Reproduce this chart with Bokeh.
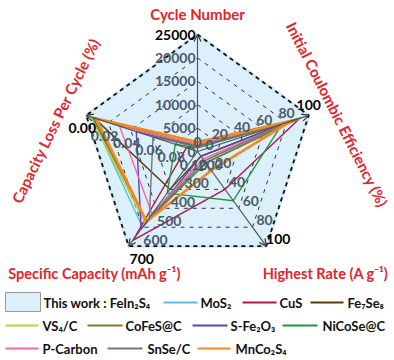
import numpy as np
from bokeh.plotting import figure
from bokeh.models import Range1d, Arrow, OpenHead
from bokeh.core.properties import value
from bokeh.embed import file_html
from bokeh.resources import INLINE

# ---------------- data ----------------
axis_titles = ["Cycle Number", "Initial Coulombic Efficiency (%)", "Highest Rate (A g\u207b\u00b9)",
               "Specific Capacity (mAh g\u207b\u00b9)", "Capacity Loss Per Cycle (%)"]
axis_lo = [0, 0, 0, 200, 0.10]        # value at the centre
axis_hi = [25000, 100, 100, 700, 0.00]  # value at the outer ring

cycle_ticks = [0, 5000, 10000, 15000, 20000, 25000]
ice_ticks = [0, 20, 40, 60, 80, 100]
rate_ticks = [0, 20, 40, 60, 80, 100]
cap_ticks = [200, 300, 400, 500, 600, 700]
loss_ticks = [0.10, 0.08, 0.06, 0.04, 0.02, 0.00]
cycle_tick_labels = ["0", "5000", "10000", "15000", "20000", "25000"]
ice_tick_labels = ["0", "20", "40", "60", "80", "100"]
rate_tick_labels = ["0", "20", "40", "60", "80", "100"]
cap_tick_labels = ["200", "300", "400", "500", "600", "700"]
loss_tick_labels = ["0.10", "0.08", "0.06", "0.04", "0.02", "0.00"]

this_work = [25000, 100, 100, 700, 0.0]

materials = ["MoS\u2082", "CuS", "Fe\u2087Se\u2088", "VS\u2084/C", "CoFeS@C", "S-Fe\u2082O\u2083",
             "NiCoSe@C", "P-Carbon", "SnSe/C", "MnCo\u2082S\u2084"]
cycle = [1000, 1000, 2000, 1500, 1200, 1000, 800, 1500, 1000, 2000]
ice = [85, 92, 82, 94, 90, 83, 76, 84, 82, 84]
rate = [10, 40, 5, 8, 12, 5, 52, 8, 10, 20]
capacity = [600, 670, 400, 580, 570, 610, 420, 530, 550, 570]
loss = [0.005, 0.09, 0.007, 0.004, 0.006, 0.045, 0.08, 0.03, 0.06, 0.009]

colors = ["#5bbce6", "#b0164c", "#5a3b0c", "#b8d43a", "#807a28", "#6a3db8",
          "#1f9a3e", "#ea6aaa", "#777777", "#f08a22"]
widths = [1.4, 1.4, 1.4, 1.6, 1.8, 1.4, 1.4, 1.4, 1.4, 2.6]

# ---------------- geometry ----------------
CX, CY, R = 197.0, 151.0, 117.0
angles = np.deg2rad([90, 18, -54, -126, 162])


def frac(k, v):
    return (v - axis_lo[k]) / (axis_hi[k] - axis_lo[k])


def pt(k, f):
    return CX + R * f * np.cos(angles[k]), CY - R * f * np.sin(angles[k])


def poly(vals):
    xs, ys = [], []
    for k, v in enumerate(vals):
        x, y = pt(k, frac(k, v))
        xs.append(x)
        ys.append(y)
    return xs, ys


W, H = 394, 360
p = figure(width=W, height=H, x_range=Range1d(0, W), y_range=Range1d(H, 0),
           output_backend="svg", toolbar_location=None, min_border=0,
           x_axis_location=None, y_axis_location=None)
p.grid.visible = False
p.outline_line_color = None
p.background_fill_color = "white"

FONT = value("Lato")

# this work fill
xs, ys = poly(this_work)
p.patch(xs, ys, fill_color="#dcf0fb", line_color="#cfe9f8", line_width=3)

# grid rings
for i in range(1, 6):
    f = i / 5
    rx = [pt(k, f)[0] for k in range(5)] + [pt(0, f)[0]]
    ry = [pt(k, f)[1] for k in range(5)] + [pt(0, f)[1]]
    if i < 5:
        p.line(rx, ry, line_color="#333333", line_width=1, line_dash="4 5")
    else:
        p.line(rx, ry, line_color="#111111", line_width=1.8, line_dash="4 4")

# axis lines with arrow heads
for k in range(5):
    ex, ey = pt(k, 1.0)
    p.add_layout(Arrow(end=OpenHead(size=7, line_color="#333333", line_width=1.2),
                       x_start=CX, y_start=CY, x_end=ex, y_end=ey,
                       line_color="#555555", line_width=1.2))

# data lines
for m in range(len(materials)):
    vals = [cycle[m], ice[m], rate[m], capacity[m], loss[m]]
    xs, ys = poly(vals)
    p.line(xs + [xs[0]], ys + [ys[0]], line_color=colors[m], line_width=widths[m])

# tick labels
tick_sets = [(cycle_ticks, cycle_tick_labels), (ice_ticks, ice_tick_labels),
             (rate_ticks, rate_tick_labels), (cap_ticks, cap_tick_labels),
             (loss_ticks, loss_tick_labels)]
offsets = [(-2, 0), (0, -10), (12, -7), (13, 13), (-4, 13)]
aligns = ["right", "center", "center", "center", "center"]
for k, (tv, tl) in enumerate(tick_sets):
    for j, (v, lab) in enumerate(zip(tv, tl)):
        x, y = pt(k, frac(k, v))
        outer = j == len(tv) - 1
        p.text([x + offsets[k][0]], [y + offsets[k][1]], text=[lab], text_font=FONT,
               text_font_style="bold", text_font_size="14px",
               text_color="#000000" if outer else "#4b5a6a",
               text_align=aligns[k], text_baseline="middle")

# axis titles
RED = "#e5232b"
p.text([197], [13], text=[axis_titles[0]], text_font=FONT, text_font_style="bold",
       text_font_size="15px", text_color=RED, text_align="center", text_baseline="middle")
p.text([337], [114], text=[axis_titles[1]], text_font=FONT, text_font_style="bold",
       text_font_size="15px", text_color=RED, text_align="center", text_baseline="middle",
       angle=-np.deg2rad(63))
p.text([325], [273], text=[axis_titles[2]], text_font=FONT, text_font_style="bold",
       text_font_size="14.5px", text_color=RED, text_align="center", text_baseline="middle")
p.text([94], [273], text=[axis_titles[3]], text_font=FONT, text_font_style="bold",
       text_font_size="14.5px", text_color=RED, text_align="center", text_baseline="middle")
p.text([55], [120], text=[axis_titles[4]], text_font=FONT, text_font_style="bold",
       text_font_size="15px", text_color=RED, text_align="center", text_baseline="middle",
       angle=np.deg2rad(64))

# legend (manual layout)
p.quad(left=[5], right=[40], top=[292], bottom=[311], fill_color="#dcf0fb",
       line_color="#999999", line_width=1)
p.text([43], [302], text=["This work : FeIn\u2082S\u2084"], text_font=FONT, text_font_style="bold",
       text_font_size="13px", text_color="#111111", text_align="left", text_baseline="middle")
leg_pos = [(163, 197, 302, 200), (242, 276, 302, 279), (310, 343, 302, 347),
           (5, 38, 325, 42), (87, 122, 325, 125), (192, 227, 325, 230), (282, 317, 325, 322),
           (5, 38, 348, 42), (107, 142, 348, 147), (197, 230, 348, 235)]
for m, (x0, x1, yy, tx) in enumerate(leg_pos):
    p.line([x0, x1], [yy, yy], line_color=colors[m], line_width=2)
    p.text([tx], [yy], text=[materials[m]], text_font=FONT, text_font_style="bold",
           text_font_size="13px", text_color="#111111", text_align="left", text_baseline="middle")

open("out.html", "w").write(file_html(p, INLINE))
